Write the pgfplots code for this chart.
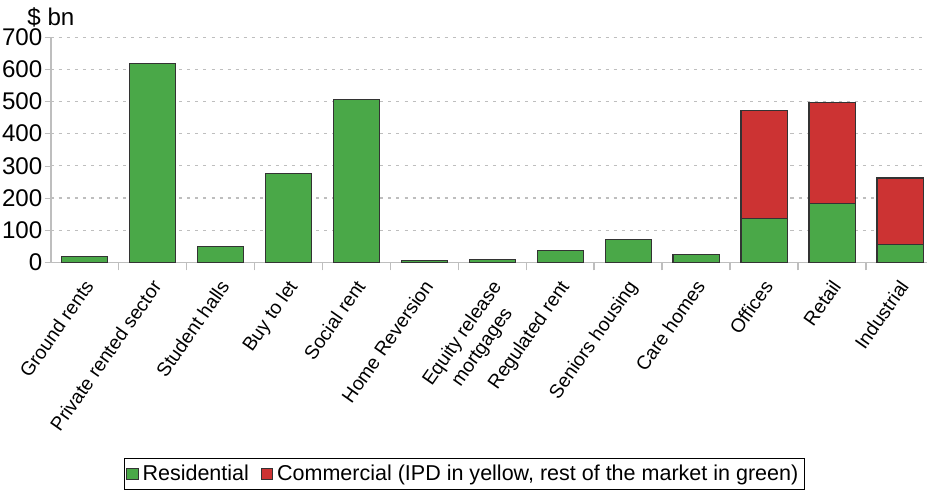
\documentclass[border=0pt]{standalone}
\usepackage{pgfplots}
\pgfplotsset{compat=1.18}
\usepackage{fontspec}
\setmainfont{Liberation Sans}
\definecolor{resgreen}{RGB}{74,168,72}
\definecolor{comred}{RGB}{204,51,51}
\definecolor{gridgray}{RGB}{190,190,190}
\begin{document}
\fontsize{10.5}{12}\selectfont
\begin{tikzpicture}
\begin{axis}[
  scale only axis,
  width=436pt, height=112pt,
  ybar stacked,
  bar width=23pt,
  ymin=0, ymax=700,
  ytick={0,100,...,700},
  xmin=-0.5, xmax=12.4,
  xtick={0,...,12},
  xticklabels={Ground rents,Private rented sector,Student halls,Buy to let,Social rent,Home Reversion,{Equity release\\mortgages},Regulated rent,Seniors housing,Care homes,Offices,Retail,Industrial},
  x tick label style={rotate=55, anchor=north east, align=center, inner sep=1pt, xshift=-3.5pt, yshift=-1pt},
  minor xtick={0.5,1.5,...,11.5},
  major x tick style={draw=none},
  minor x tick style={draw=gridgray, line width=0.8pt},
  minor tick length=4pt,
  tick align=outside,
  y tick style={draw=gridgray},
  major tick length=3pt,
  axis x line*=bottom,
  axis y line*=left,
  axis line style={draw=gridgray, line width=0.8pt, -},
  ymajorgrids,
  grid style={gridgray, dash pattern=on 1.5pt off 2.5pt, line width=0.5pt},
  /pgf/number format/assume math mode=true,
  yticklabel style={font=\fontsize{12}{14}\selectfont, inner sep=1pt},
  xticklabel style={font=\fontsize{9.6}{12}\selectfont},
  legend style={at={(0.472,-1.01)}, anchor=south, legend columns=2, draw=black, line width=0.4pt,
    font=\fontsize{10.7}{13}\selectfont, inner sep=1pt, /tikz/every even column/.append style={column sep=4pt}},
  legend image code/.code={\draw[#1, line width=0.4pt] (0pt,-2.8pt) rectangle (5.6pt,2.8pt);},
  clip=false,
]
\addplot[fill=resgreen, draw=black!80, line width=0.6pt] coordinates {
(0,18) (1,619) (2,50) (3,275) (4,506) (5,5) (6,8) (7,37) (8,72) (9,25) (10,137) (11,184) (12,56)};
\addplot[fill=comred, draw=black!80, line width=0.6pt] coordinates {
(0,0) (1,0) (2,0) (3,0) (4,0) (5,0) (6,0) (7,0) (8,0) (9,0) (10,335) (11,313) (12,206)};
\legend{Residential, {Commercial (IPD in yellow, rest of the market in green)}}
\node[anchor=south east, inner sep=0pt, font=\fontsize{12}{14}\selectfont] at ([xshift=12pt, yshift=5pt]rel axis cs:0,1) {\$ bn};
\path ([yshift=18.5pt]rel axis cs:0,1) coordinate (topext);
\end{axis}
\end{tikzpicture}
\end{document}
